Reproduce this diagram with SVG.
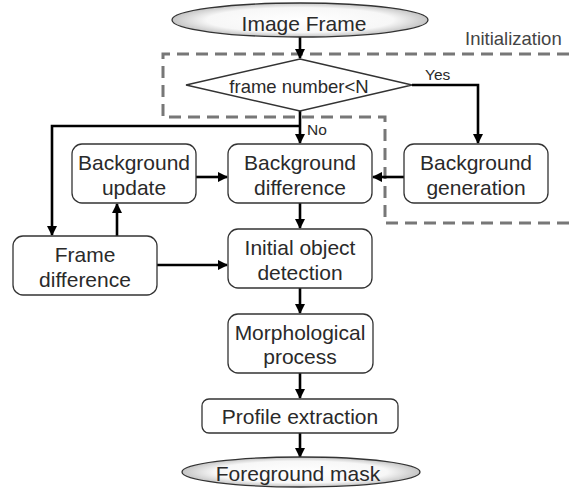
<svg xmlns="http://www.w3.org/2000/svg" width="569" height="489" viewBox="0 0 569 489">
  <style>
    .box { fill: #ffffff; stroke: #333333; stroke-width: 1.3; }
    .term { fill: url(#termFill); stroke: #333333; stroke-width: 1.3; }
    .lbl { font-family: "Liberation Sans", Arial, sans-serif; font-size: 21px; fill: #2a2a2a; text-anchor: middle; }
    .small { font-family: "Liberation Sans", Arial, sans-serif; font-size: 15.5px; fill: #2a2a2a; }
    .flow { fill: none; stroke: #000000; stroke-width: 2.6; }
    .region { fill: none; stroke: #777777; stroke-width: 3; stroke-dasharray: 12 7; }
  </style>
  <defs>
    <radialGradient id="termFill" cx="0.5" cy="0.5" r="0.52">
      <stop offset="0" stop-color="#ffffff"/>
      <stop offset="0.7" stop-color="#f7f7f7"/>
      <stop offset="1" stop-color="#bdbdbd"/>
    </radialGradient>
    <marker id="head" viewBox="0 0 10 10" refX="9" refY="5" markerWidth="4" markerHeight="4" orient="auto" markerUnits="strokeWidth">
      <path d="M0,0 L10,5 L0,10 z" fill="#000000"/>
    </marker>
  </defs>

  <!-- initialization region -->
  <g id="initialization">
    <polyline class="region" points="569,54 163,54 163,117 385,117 385,223 569,223"/>
    <text x="465" y="45" font-family="Liberation Sans, Arial, sans-serif" font-size="18.5" fill="#444444">Initialization</text>
  </g>

  <!-- connectors -->
  <g id="connectors">
    <line class="flow" x1="300" y1="37" x2="300" y2="58" marker-end="url(#head)"/>
    <polyline class="flow" points="412,85 478,85 478,143" marker-end="url(#head)"/>
    <line class="flow" x1="300" y1="111" x2="300" y2="143" marker-end="url(#head)"/>
    <polyline class="flow" points="300,126 52,126 52,235" marker-end="url(#head)"/>
    <line class="flow" x1="196" y1="177" x2="227" y2="177" marker-end="url(#head)"/>
    <line class="flow" x1="404" y1="177" x2="373" y2="177" marker-end="url(#head)"/>
    <line class="flow" x1="117" y1="236" x2="117" y2="204" marker-end="url(#head)"/>
    <line class="flow" x1="157" y1="265" x2="227" y2="265" marker-end="url(#head)"/>
    <line class="flow" x1="300" y1="203" x2="300" y2="228" marker-end="url(#head)"/>
    <line class="flow" x1="300" y1="288" x2="300" y2="313" marker-end="url(#head)"/>
    <line class="flow" x1="300" y1="373" x2="300" y2="398" marker-end="url(#head)"/>
    <line class="flow" x1="300" y1="433" x2="300" y2="457" marker-end="url(#head)"/>
    <text class="small" x="425" y="80">Yes</text>
    <text class="small" x="307" y="135">No</text>
  </g>

  <g id="image-frame">
    <ellipse class="term" cx="300" cy="20" rx="128" ry="17"/>
    <text class="lbl" x="304" y="31">Image Frame</text>
  </g>

  <g id="frame-number-check">
    <polygon class="box" points="300,59 412,85 300,111 186,85"/>
    <text class="lbl" x="299" y="93" style="font-size:18.5px">frame number&lt;N</text>
  </g>

  <g id="background-update">
    <rect class="box" x="72" y="144" width="124" height="59" rx="10"/>
    <text class="lbl" x="134" y="170">Background</text>
    <text class="lbl" x="134" y="195">update</text>
  </g>

  <g id="background-difference">
    <rect class="box" x="228" y="144" width="144" height="59" rx="10"/>
    <text class="lbl" x="300" y="170">Background</text>
    <text class="lbl" x="300" y="195">difference</text>
  </g>

  <g id="background-generation">
    <rect class="box" x="404" y="144" width="144" height="59" rx="10"/>
    <text class="lbl" x="476" y="170">Background</text>
    <text class="lbl" x="476" y="195">generation</text>
  </g>

  <g id="frame-difference">
    <rect class="box" x="13" y="236" width="144" height="59" rx="10"/>
    <text class="lbl" x="85" y="262">Frame</text>
    <text class="lbl" x="85" y="287">difference</text>
  </g>

  <g id="initial-object-detection">
    <rect class="box" x="228" y="229" width="144" height="59" rx="10"/>
    <text class="lbl" x="300" y="255">Initial object</text>
    <text class="lbl" x="300" y="280">detection</text>
  </g>

  <g id="morphological-process">
    <rect class="box" x="228" y="314" width="145" height="59" rx="10"/>
    <text class="lbl" x="300" y="340">Morphological</text>
    <text class="lbl" x="300" y="364">process</text>
  </g>

  <g id="profile-extraction">
    <rect class="box" x="202" y="399" width="196" height="34" rx="7"/>
    <text class="lbl" x="300" y="424">Profile extraction</text>
  </g>

  <g id="foreground-mask">
    <ellipse class="term" cx="301" cy="472" rx="119" ry="15"/>
    <text class="lbl" x="298" y="481">Foreground mask</text>
  </g>
</svg>
